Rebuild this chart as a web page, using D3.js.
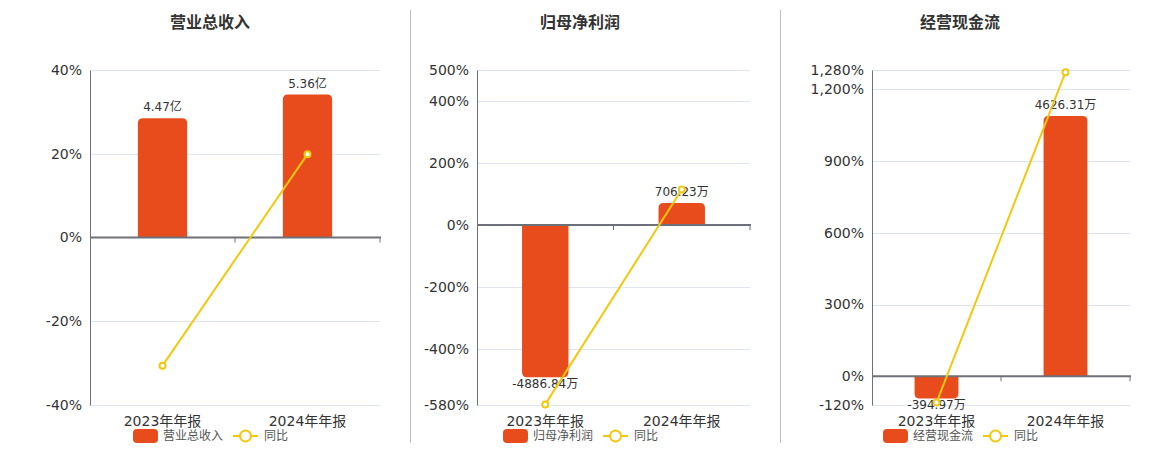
<!DOCTYPE html>
<html>
<head>
<meta charset="utf-8">
<script src="https://cdn.jsdelivr.net/npm/d3@7"></script>
<style>
  body { margin: 0; background: #fff; }
  svg text { font-family: "DejaVu Sans", "Noto Sans CJK SC", sans-serif; }
</style>
</head>
<body>
<div id="chart"></div>
<script>
// data
const categories = ["2023年年报", "2024年年报"];
const titles = ["营业总收入", "归母净利润", "经营现金流"];

const revenue = [4.47, 5.36];          // 亿
const revenueLabels = ["4.47亿", "5.36亿"];
const revenueYoy = [-30.6, 19.9];

const netProfit = [-4886.84, 706.23];  // 万
const netProfitLabels = ["-4886.84万", "706.23万"];
const netProfitYoy = [-578, 114.5];

const cashFlow = [-394.97, 4626.31];   // 万
const cashFlowLabels = ["-394.97万", "4626.31万"];
const cashFlowYoy = [-110, 1271];

const pctTicks1 = [-40, -20, 0, 20, 40];
const pctTicks2 = [-580, -400, -200, 0, 200, 400, 500];
const pctTicks3 = [-120, 0, 300, 600, 900, 1200, 1280];

// hidden bar axes (zero aligned with the percent axis)
const barDomain1 = [-6.28, 6.28];
const barDomain2 = [-5780, 4980];
const barDomain3 = [-511, 5445];

const BAR = "#e84c1d", LINE = "#f2c80f";
const W = 1160, H = 450, plotTop = 70, plotBottom = 405;

// plain hyphen for negatives, like the original
const fmt = d3.formatLocale({ decimal: ".", thousands: ",", grouping: [3], currency: ["", ""], minus: "-" }).format(",");

const panels = [
  { title: titles[0], bars: revenue, labels: revenueLabels, yoy: revenueYoy, ticks: pctTicks1, barDomain: barDomain1, left: 90, right: 380, center: 210 },
  { title: titles[1], bars: netProfit, labels: netProfitLabels, yoy: netProfitYoy, ticks: pctTicks2, barDomain: barDomain2, left: 477, right: 750, center: 580 },
  { title: titles[2], bars: cashFlow, labels: cashFlowLabels, yoy: cashFlowYoy, ticks: pctTicks3, barDomain: barDomain3, left: 872, right: 1130, center: 960 }
];

const svg = d3.select("#chart").append("svg")
  .attr("width", W).attr("height", H);

// separators between the three charts
[410.5, 780.5].forEach(x => {
  svg.append("line").attr("x1", x).attr("x2", x).attr("y1", 10).attr("y2", 443)
    .attr("stroke", "#bdbdbd").attr("stroke-width", 1);
});

// bar path with rounded corners only at the value end
function barPath(x, w, y0, y1, r) {
  const h = Math.abs(y1 - y0);
  r = Math.min(r, h, w / 2);
  if (y1 < y0) { // positive, round top
    return `M${x},${y0}V${y1 + r}Q${x},${y1} ${x + r},${y1}H${x + w - r}Q${x + w},${y1} ${x + w},${y1 + r}V${y0}Z`;
  }
  return `M${x},${y0}V${y1 - r}Q${x},${y1} ${x + r},${y1}H${x + w - r}Q${x + w},${y1} ${x + w},${y1 - r}V${y0}Z`;
}

panels.forEach(p => {
  const g = svg.append("g");
  const pct = d3.scaleLinear().domain(d3.extent(p.ticks)).range([plotBottom, plotTop]);
  const bar = d3.scaleLinear().domain(p.barDomain).range([plotBottom, plotTop]);
  const x = d3.scaleBand().domain(categories).range([p.left, p.right]);
  const bw = x.bandwidth() * 0.34;
  const y0 = pct(0);

  // title
  g.append("text").attr("x", p.center).attr("y", 28)
    .attr("text-anchor", "middle").attr("font-size", 16).attr("font-weight", "bold")
    .attr("fill", "#333").text(p.title);

  // grid
  g.append("g").selectAll("line").data(p.ticks.filter(t => t !== 0)).join("line")
    .attr("x1", p.left).attr("x2", p.right)
    .attr("y1", d => Math.round(pct(d)) + 0.5).attr("y2", d => Math.round(pct(d)) + 0.5)
    .attr("stroke", "#e0e6f1");

  // left axis
  const ax = g.append("g").attr("transform", `translate(${p.left},0)`)
    .call(d3.axisLeft(pct).tickValues(p.ticks).tickSize(0).tickPadding(8)
      .tickFormat(d => fmt(d) + "%"));
  ax.select(".domain").attr("stroke", "#6e7079");
  ax.selectAll("text").attr("font-size", 14).attr("fill", "#333");

  // bars
  g.append("g").selectAll("path").data(p.bars).join("path")
    .attr("d", (d, i) => barPath(x(categories[i]) + (x.bandwidth() - bw) / 2, bw, y0, bar(d), 5))
    .attr("fill", BAR);

  // bar value labels
  g.append("g").selectAll("text").data(p.bars).join("text")
    .attr("x", (d, i) => x(categories[i]) + x.bandwidth() / 2)
    .attr("y", d => d >= 0 ? bar(d) - 7 : bar(d) + 11)
    .attr("text-anchor", "middle").attr("font-size", 12).attr("fill", "#333")
    .text((d, i) => p.labels[i]);

  // zero axis with category ticks
  g.append("line").attr("x1", p.left).attr("x2", p.right + 1)
    .attr("y1", y0).attr("y2", y0).attr("stroke", "#6e7079").attr("stroke-width", 2);
  g.append("g").selectAll("line").data([x(categories[1]), p.right]).join("line")
    .attr("x1", d => d).attr("x2", d => d).attr("y1", y0).attr("y2", y0 + 5)
    .attr("stroke", "#6e7079");

  // category labels
  g.append("g").selectAll("text").data(categories).join("text")
    .attr("x", d => x(d) + x.bandwidth() / 2).attr("y", 426)
    .attr("text-anchor", "middle").attr("font-size", 14).attr("fill", "#333")
    .text(d => d);

  // yoy line
  const line = d3.line().x((d, i) => x(categories[i]) + x.bandwidth() / 2).y(d => pct(d));
  g.append("path").datum(p.yoy).attr("d", line)
    .attr("fill", "none").attr("stroke", LINE).attr("stroke-width", 2);
  g.append("g").selectAll("circle").data(p.yoy).join("circle")
    .attr("cx", (d, i) => x(categories[i]) + x.bandwidth() / 2).attr("cy", d => pct(d))
    .attr("r", 3).attr("fill", "#fff").attr("stroke", LINE).attr("stroke-width", 2);

  // legend
  const lg = g.append("g").attr("transform", `translate(${p.center},436)`);
  lg.append("rect").attr("x", -77).attr("y", -7).attr("width", 25).attr("height", 14)
    .attr("rx", 4).attr("fill", BAR);
  lg.append("text").attr("x", -47).attr("y", 0).attr("dy", "0.35em")
    .attr("font-size", 12).attr("fill", "#555").text(p.title);
  lg.append("line").attr("x1", 23).attr("x2", 48).attr("y1", 0).attr("y2", 0)
    .attr("stroke", LINE).attr("stroke-width", 2);
  lg.append("circle").attr("cx", 35.5).attr("cy", 0).attr("r", 5.5)
    .attr("fill", "#fff").attr("stroke", LINE).attr("stroke-width", 2);
  lg.append("text").attr("x", 54).attr("y", 0).attr("dy", "0.35em")
    .attr("font-size", 12).attr("fill", "#555").text("同比");
});
</script>
</body>
</html>
